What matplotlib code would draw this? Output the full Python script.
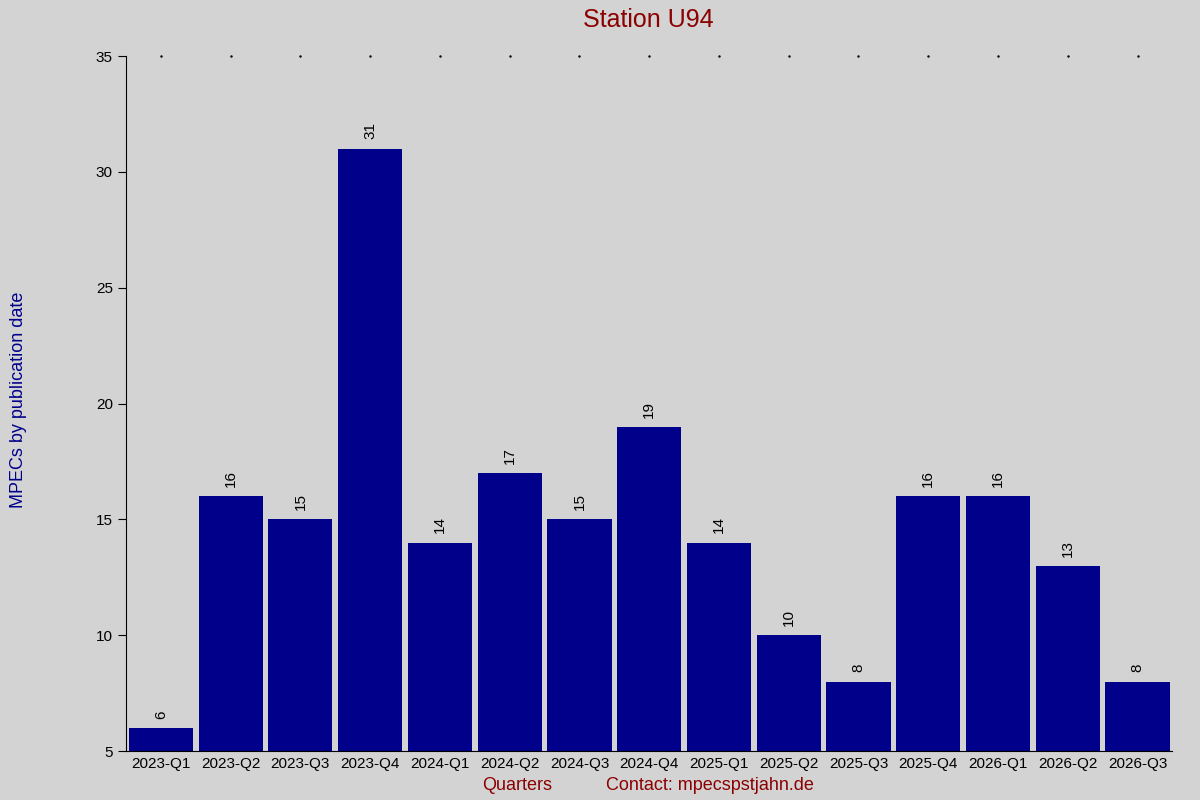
import matplotlib
matplotlib.use("Agg")
import matplotlib.pyplot as plt

quarters = ["2023-Q1","2023-Q2","2023-Q3","2023-Q4","2024-Q1","2024-Q2","2024-Q3","2024-Q4",
            "2025-Q1","2025-Q2","2025-Q3","2025-Q4","2026-Q1","2026-Q2","2026-Q3"]
counts = [6,16,15,31,14,17,15,19,14,10,8,16,16,13,8]
yticks = [5,10,15,20,25,30,35]

plt.rcParams['font.family'] = ['Liberation Sans', 'DejaVu Sans']
fig = plt.figure(figsize=(12,8), dpi=100, facecolor='#d3d3d3')
ax = fig.add_axes([0.105, 0.061, 0.872, 0.869])
ax.set_facecolor('#d3d3d3')
x = list(range(len(quarters)))
base = 5
ax.bar(x, [c-base for c in counts], bottom=base, width=0.92, color='#00008b')
for xi, c in zip(x, counts):
    ax.text(xi, c+0.4, str(c), rotation=90, ha='center', va='bottom', fontsize=11, color='black')
ax.set_xlim(-0.5, 14.5)
ax.set_ylim(5, 35)
ax.set_yticks(yticks)
ax.set_xticks(x)
ax.set_xticklabels(quarters, fontsize=11)
ax.tick_params(axis='y', labelsize=11, length=6, direction='out')
ax.tick_params(axis='x', length=0, pad=4)
for s in ['top','right']:
    ax.spines[s].set_visible(False)
for xi in x:
    ax.plot(xi, 35, marker='.', markersize=1.5, color='black', clip_on=False)
fig.text(0.54, 0.99, "Station U94", ha='center', va='top', fontsize=18, color='#8b0000')
fig.text(0.008, 0.5, "MPECs by publication date", rotation=90, ha='left', va='center', fontsize=13, color='#00008b')
fig.text(0.431, 0.007, "Quarters", ha='center', va='bottom', fontsize=13, color='#8b0000')
fig.text(0.592, 0.007, "Contact: mpecspstjahn.de", ha='center', va='bottom', fontsize=13, color='#8b0000')
fig.savefig("out.png", dpi=100, facecolor=fig.get_facecolor())
